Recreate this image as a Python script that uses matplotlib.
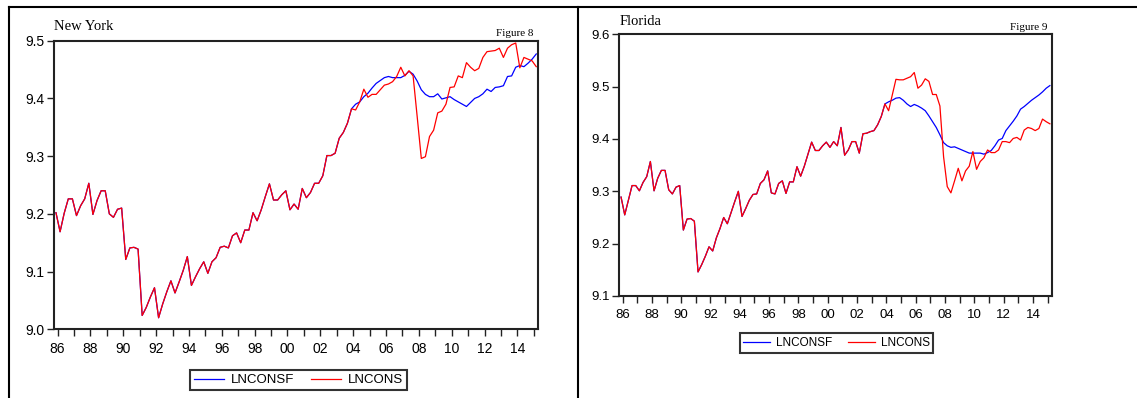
import numpy as np
import matplotlib
matplotlib.use("Agg")
import matplotlib.pyplot as plt
from matplotlib.lines import Line2D

# quarterly data, 1986Q1 .. 2015Q2 (118 obs); both series equal up to 2004Q1
years = list(range(1986, 2016))

ny_common = [9.202, 9.169, 9.201, 9.226, 9.226, 9.197, 9.214, 9.226, 9.253, 9.199,
             9.223, 9.240, 9.240, 9.200, 9.194, 9.208, 9.210, 9.121, 9.141, 9.142,
             9.139, 9.024, 9.038, 9.056, 9.072, 9.020, 9.044, 9.065, 9.084, 9.063,
             9.082, 9.102, 9.126, 9.076, 9.091, 9.105, 9.117, 9.097, 9.117, 9.124,
             9.142, 9.144, 9.141, 9.162, 9.167, 9.150, 9.172, 9.172, 9.202, 9.188,
             9.207, 9.230, 9.252, 9.224, 9.224, 9.233, 9.240, 9.207, 9.217, 9.208,
             9.244, 9.228, 9.237, 9.253, 9.253, 9.266, 9.301, 9.301, 9.305, 9.331,
             9.341, 9.357, 9.382]
ny_cons_tail = [9.380, 9.394, 9.416, 9.402, 9.407, 9.407, 9.415, 9.423, 9.425, 9.429,
                9.438, 9.454, 9.439, 9.448, 9.439, 9.368, 9.296, 9.299, 9.334, 9.345,
                9.375, 9.378, 9.390, 9.419, 9.420, 9.439, 9.436, 9.462, 9.454, 9.448,
                9.452, 9.471, 9.481, 9.482, 9.483, 9.487, 9.471, 9.487, 9.493, 9.496,
                9.453, 9.471, 9.468, 9.465, 9.455]
ny_consf_tail = [9.390, 9.394, 9.403, 9.409, 9.418, 9.426, 9.431, 9.436, 9.438, 9.436,
                 9.436, 9.436, 9.440, 9.447, 9.442, 9.430, 9.415, 9.407, 9.403, 9.403,
                 9.408, 9.399, 9.401, 9.403, 9.398, 9.394, 9.390, 9.386, 9.393, 9.400,
                 9.403, 9.408, 9.416, 9.412, 9.419, 9.420, 9.422, 9.438, 9.439, 9.454,
                 9.457, 9.455, 9.461, 9.468, 9.477]

fl_common = [9.289, 9.255, 9.283, 9.311, 9.311, 9.301, 9.317, 9.328, 9.357, 9.301,
             9.325, 9.340, 9.340, 9.303, 9.295, 9.308, 9.311, 9.226, 9.247, 9.248,
             9.243, 9.146, 9.160, 9.176, 9.194, 9.186, 9.211, 9.229, 9.250, 9.238,
             9.259, 9.280, 9.300, 9.252, 9.267, 9.283, 9.294, 9.295, 9.315, 9.322,
             9.339, 9.297, 9.295, 9.315, 9.320, 9.296, 9.318, 9.318, 9.347, 9.329,
             9.348, 9.371, 9.394, 9.378, 9.378, 9.387, 9.394, 9.384, 9.395, 9.387,
             9.422, 9.369, 9.379, 9.395, 9.395, 9.373, 9.410, 9.411, 9.414, 9.416,
             9.427, 9.443, 9.467]
fl_cons_tail = [9.454, 9.484, 9.514, 9.513, 9.513, 9.516, 9.519, 9.527, 9.497, 9.503,
                9.515, 9.510, 9.485, 9.485, 9.463, 9.366, 9.309, 9.297, 9.320, 9.344,
                9.320, 9.339, 9.348, 9.376, 9.342, 9.357, 9.364, 9.379, 9.374, 9.374,
                9.379, 9.395, 9.395, 9.393, 9.401, 9.403, 9.398, 9.417, 9.422, 9.420,
                9.416, 9.420, 9.438, 9.433, 9.429]
fl_consf_tail = [9.471, 9.474, 9.478, 9.479, 9.474, 9.467, 9.462, 9.466, 9.463, 9.459,
                 9.454, 9.444, 9.433, 9.422, 9.408, 9.393, 9.387, 9.384, 9.385, 9.382,
                 9.379, 9.376, 9.373, 9.373, 9.373, 9.373, 9.371, 9.374, 9.378, 9.387,
                 9.398, 9.401, 9.416, 9.425, 9.434, 9.444, 9.457, 9.462, 9.468, 9.474,
                 9.479, 9.484, 9.490, 9.497, 9.502]

ny_yticks = [9.0, 9.1, 9.2, 9.3, 9.4, 9.5]
fl_yticks = [9.1, 9.2, 9.3, 9.4, 9.5, 9.6]

SANS = "Liberation Sans"
SERIF = "Liberation Serif"

fig = plt.figure(figsize=(11.37, 3.98), dpi=100)


def panel(rect, cons, consf, yticks, title, figname, leg_xy, fs, leg_fs):
    ax = fig.add_axes(rect)
    x = np.arange(len(cons))
    ax.plot(x, consf, color="#0000ff", lw=0.9, label="LNCONSF")
    ax.plot(x, cons, color="#ff0000", lw=0.9, label="LNCONS")
    ax.set_xlim(-0.48, 117.5)
    ax.set_ylim(yticks[0], yticks[-1])
    ax.set_yticks(yticks)
    ax.set_yticklabels([f"{v:.1f}" for v in yticks], fontfamily=SANS, fontsize=fs)
    tick_pos = [4 * (y - 1986) + 0.4 for y in years]
    ax.set_xticks(tick_pos)
    ax.set_xticklabels([f"{y % 100:02d}" if y % 2 == 0 else "" for y in years],
                       fontfamily=SANS, fontsize=fs)
    ax.tick_params(axis="both", direction="out", length=5, width=1, color="#222222",
                   pad=4)
    ax.tick_params(axis="y", pad=2)
    for s in ax.spines.values():
        s.set_linewidth(1.5)
        s.set_color("#222222")
    ax.text(0.0, 1.025, title, transform=ax.transAxes, ha="left", va="bottom",
            fontfamily=SERIF, fontsize=10.5)
    ax.text(0.99, 1.01, figname, transform=ax.transAxes, ha="right", va="bottom",
            fontfamily=SERIF, fontsize=8)
    leg = ax.legend(loc="center", bbox_to_anchor=leg_xy, bbox_transform=fig.transFigure,
                    ncol=2, prop={"family": SANS, "size": leg_fs},
                    handlelength=2.3, handletextpad=0.5, columnspacing=1.3,
                    borderpad=0.3, fancybox=False, framealpha=1)
    leg.get_frame().set_edgecolor("#333333")
    leg.get_frame().set_linewidth(1.5)
    return ax


panel([54 / 1137, 1 - 329.3 / 398, 484.3 / 1137, 288.6 / 398],
      ny_common + ny_cons_tail, ny_common + ny_consf_tail,
      ny_yticks, "New York", "Figure 8", (298.5 / 1137, 1 - 380 / 398), 10, 9.5)

panel([619.3 / 1137, 1 - 296 / 398, 432.4 / 1137, 261.7 / 398],
      fl_common + fl_cons_tail, fl_common + fl_consf_tail,
      fl_yticks, "Florida", "Figure 9", (836.5 / 1137, 1 - 343 / 398), 9.5, 8.5)

# outer frame lines of the page
W, H = 1137, 398
fig.add_artist(Line2D([9 / W, 1], [1 - 7 / H, 1 - 7 / H], color="black", lw=1.5))
fig.add_artist(Line2D([9 / W, 9 / W], [0, 1 - 7 / H], color="black", lw=1.5))
fig.add_artist(Line2D([578 / W, 578 / W], [0, 1 - 7 / H], color="black", lw=1.5))

fig.savefig("out.png", dpi=100)
